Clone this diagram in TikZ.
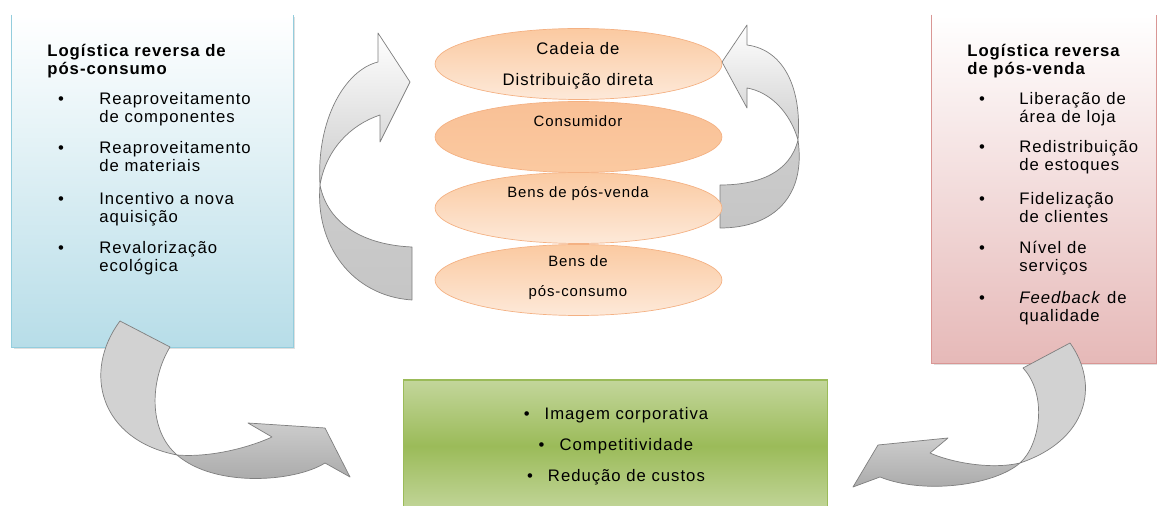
\documentclass[tikz,border=0pt]{standalone}
\usepackage{fontspec}
\newfontfamily\diagfont[LetterSpace=6]{Liberation Sans}
\usetikzlibrary{positioning,shapes.geometric,shadows}

\definecolor{blueedge}{HTML}{93CDDD}
\definecolor{bluefill}{HTML}{B7DDE8}
\definecolor{pinkedge}{HTML}{D99694}
\definecolor{pinkfill}{HTML}{E6B9B8}
\definecolor{greenmid}{HTML}{9BBB59}
\definecolor{greenlight}{HTML}{C3D69B}
\definecolor{peach}{HTML}{FAC090}
\definecolor{peachlight}{HTML}{FDE9D9}
\definecolor{orangedark}{HTML}{F8B98A}
\definecolor{orangeedge}{HTML}{F4B183}
\definecolor{arrowedge}{HTML}{7F7F7F}

\begin{document}
\begin{tikzpicture}[x=0.02cm,y=-0.02cm,
  sidebox/.style={rectangle,inner sep=0pt,draw=none,drop shadow={opacity=0.25,shadow xshift=1.2pt,shadow yshift=-1.2pt}},
  ovalbox/.style={ellipse,inner sep=0pt,minimum width=5.74cm,minimum height=1.42cm,draw=orangeedge,line width=0.4pt,top color=peach!85,bottom color=peachlight},
  ribbon/.style={draw=arrowedge,line width=0.4pt,line join=round},
  headtxt/.style={font=\diagfont\bfseries\fontsize{9.5}{10.24}\selectfont,align=left,anchor=base west,inner sep=0pt},
  itemtxt/.style={font=\diagfont\fontsize{9.5}{10.24}\selectfont,align=left,anchor=base west,inner sep=0pt},
  dot/.style={font=\diagfont\fontsize{9.5}{10.24}\selectfont,anchor=base,inner sep=0pt},
  ovaltxt/.style={font=\diagfont\fontsize{9.5}{17.6}\selectfont,align=center,anchor=base,inner sep=0pt},
  smallovaltxt/.style={font=\diagfont\fontsize{8.5}{17.1}\selectfont,align=center,anchor=base,inner sep=0pt},
  ganhotxt/.style={font=\diagfont\fontsize{9.5}{17.6}\selectfont,align=center,anchor=base,inner sep=0pt}]
\useasboundingbox (0,0) rectangle (1157,506);

% caixas laterais e caixa de ganhos
\node[sidebox,minimum width=5.62cm,minimum height=6.64cm,top color=white,bottom color=bluefill] (poscons) at (152.5,181) {};
\draw[blueedge,line width=0.8pt] (poscons.north west) -- (poscons.south west) -- (poscons.south east) -- (poscons.north east);
\node[sidebox,minimum width=4.48cm,minimum height=6.96cm,top color=white,bottom color=pinkfill] (posvenda) at (1044,189) {};
\draw[pinkedge,line width=0.8pt] (posvenda.north west) -- (posvenda.south west) -- (posvenda.south east) -- (posvenda.north east);
\node[rectangle,inner sep=0pt,minimum width=8.5cm,minimum height=2.64cm,top color=greenlight,bottom color=greenlight,middle color=greenmid,draw=greenmid,line width=0.6pt] (ganhos) at (615.5,446) {};

% setas curvas
\path[ribbon,top color=gray!40,bottom color=gray!45] (320,185) .. controls (328,225) and (365,245) .. (412,247) -- (412,300) .. controls (352,296) and (315,245) .. (320,185) -- cycle;
\path[ribbon,top color=white,bottom color=gray!40] (320,185) .. controls (316,120) and (345,70) .. (378,62) -- (378,33) -- (410,82) -- (380,142) -- (380,115) .. controls (350,125) and (326,150) .. (320,185) -- cycle;
\path[ribbon,top color=gray!40,bottom color=gray!45] (798,140) .. controls (790,172) and (760,185) .. (720,185) -- (720,228) .. controls (775,228) and (806,195) .. (798,140) -- cycle;
\path[ribbon,top color=white,bottom color=gray!40] (747,45) .. controls (785,50) and (802,90) .. (798,140) .. controls (790,112) and (770,92) .. (747,88) -- (747,108) -- (722,62) -- (747,25) -- cycle;
\path[ribbon,fill=gray!35] (120,321) -- (170,347) .. controls (150,380) and (148,430) .. (177,455) .. controls (100,440) and (82,372) .. (120,321) -- cycle;
\path[ribbon,top color=gray!40,bottom color=gray!70] (177,455) .. controls (215,458) and (255,445) .. (272,437) -- (248,423) -- (325,428) -- (350,477) -- (325,463) .. controls (295,482) and (215,488) .. (177,455) -- cycle;
\path[ribbon,fill=gray!35] (1023,368) -- (1070,343) .. controls (1100,385) and (1088,440) .. (1020,463) .. controls (1040,445) and (1048,395) .. (1023,368) -- cycle;
\path[ribbon,top color=gray!40,bottom color=gray!70] (1020,463) .. controls (990,470) and (950,462) .. (930,453) -- (948,438) -- (878,445) -- (853,487) -- (880,477) .. controls (925,495) and (995,485) .. (1020,463) -- cycle;

% elipses centrais
\node[ovalbox] (cadeia) at (578.5,64) {};
\node[ovalbox,top color=orangedark!90,bottom color=peach!85] (consumidor) at (578.5,137) {};
\node[ovalbox] (benspv) at (578.5,208) {};
\node[ovalbox] (benspc) at (578.5,280) {};
\node[ovaltxt] (tcadeia) at (578,85.5) {Cadeia de\\Distribuição direta};
\node[smallovaltxt] (tconsumidor) at (578,127) {Consumidor};
\node[smallovaltxt] (tbenspv) at (578,198) {Bens de pós-venda};
\node[smallovaltxt] (tbenspc) at (578,297) {Bens de\\pós-consumo};

% texto da caixa esquerda
\node[headtxt] (tituloesq) at (47,74.5) {Logística reversa de\\pós-consumo};
\node[dot] (be1) at (61,104.5) {\textbullet};
\node[itemtxt] (ie1) at (99,122.5) {Reaproveitamento\\de componentes};
\node[dot] (be2) at (61,153.5) {\textbullet};
\node[itemtxt] (ie2) at (99,171.5) {Reaproveitamento\\de materiais};
\node[dot] (be3) at (61,204.5) {\textbullet};
\node[itemtxt] (ie3) at (99,222.5) {Incentivo a nova\\aquisição};
\node[dot] (be4) at (61,253.5) {\textbullet};
\node[itemtxt] (ie4) at (99,271.5) {Revalorização\\ecológica};

% texto da caixa direita
\node[headtxt] (titulodir) at (967,74.5) {Logística reversa\\de pós-venda};
\node[dot] (bd1) at (982,104.5) {\textbullet};
\node[itemtxt] (id1) at (1019,122.5) {Liberação de\\área de loja};
\node[dot] (bd2) at (982,152.5) {\textbullet};
\node[itemtxt] (id2) at (1019,170.5) {Redistribuição\\de estoques};
\node[dot] (bd3) at (982,204.5) {\textbullet};
\node[itemtxt] (id3) at (1019,222.5) {Fidelização\\de clientes};
\node[dot] (bd4) at (982,253.5) {\textbullet};
\node[itemtxt] (id4) at (1019,271.5) {Nível de\\serviços};
\node[dot] (bd5) at (982,303.5) {\textbullet};
\node[itemtxt] (id5) at (1019,321.5) {\textit{Feedback} de\\qualidade};

% texto da caixa de ganhos
\node[ganhotxt] (tganhos) at (616,481.5) {\textbullet\hspace{0.3cm}Imagem corporativa\\\textbullet\hspace{0.3cm}Competitividade\\\textbullet\hspace{0.3cm}Redução de custos};
\end{tikzpicture}
\end{document}
